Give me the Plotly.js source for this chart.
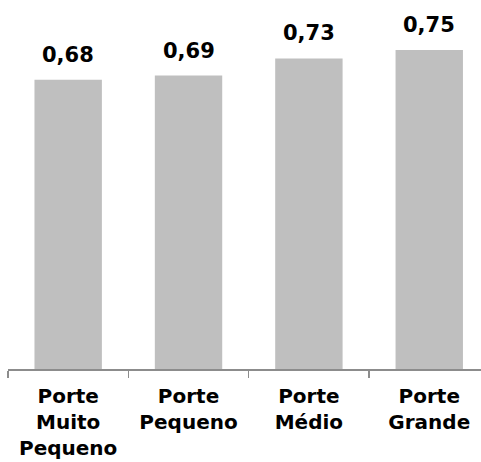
<!DOCTYPE html>
<html>
<head>
<meta charset="utf-8">
<script src="https://cdn.plot.ly/plotly-3.0.1.min.js"></script>
<style>
  html, body { margin: 0; padding: 0; background: #ffffff; }
  #chart { width: 481px; height: 462px; }
</style>
</head>
<body>
<div id="chart"></div>
<script>
// Categories (company size) and index values
const categories = ['Porte<br>Muito<br>Pequeno', 'Porte<br>Pequeno', 'Porte<br>Médio', 'Porte<br>Grande'];
const values = [0.68, 0.69, 0.73, 0.75];
const valueLabels = ['0,68', '0,69', '0,73', '0,75'];

const labelFont = { family: 'DejaVu Sans, sans-serif', size: 21, color: '#000000', weight: 700 };
const tickFont = { family: 'DejaVu Sans, sans-serif', size: 20, color: '#000000', weight: 700 };

const trace = {
  type: 'bar',
  x: categories,
  y: values,
  marker: { color: '#bfbfbf' },
  width: 0.56,
  hoverinfo: 'skip'
};

const annotations = categories.map((c, i) => ({
  x: c,
  y: values[i],
  xref: 'x',
  yref: 'y',
  text: '<b>' + valueLabels[i] + '</b>',
  showarrow: false,
  yanchor: 'bottom',
  yshift: 11,
  font: labelFont
}));

const layout = {
  width: 481,
  height: 462,
  margin: { l: 8, r: 0, t: 10, b: 93 },
  paper_bgcolor: '#ffffff',
  plot_bgcolor: '#ffffff',
  showlegend: false,
  bargap: 0.44,
  xaxis: {
    type: 'category',
    range: [-0.5, 3.43],
    showline: true,
    linecolor: '#8c8c8c',
    linewidth: 1.5,
    ticks: 'outside',
    tickson: 'boundaries',
    ticklen: 7,
    tickcolor: '#8c8c8c',
    tickwidth: 1.5,
    ticklabelstandoff: 8,
    tickfont: tickFont,
    showgrid: false,
    zeroline: false,
    fixedrange: true
  },
  yaxis: {
    range: [0, 0.844],
    visible: false,
    showgrid: false,
    zeroline: false,
    fixedrange: true
  },
  annotations: annotations
};

Plotly.newPlot('chart', [trace], layout, { displayModeBar: false, staticPlot: true });
</script>
</body>
</html>
